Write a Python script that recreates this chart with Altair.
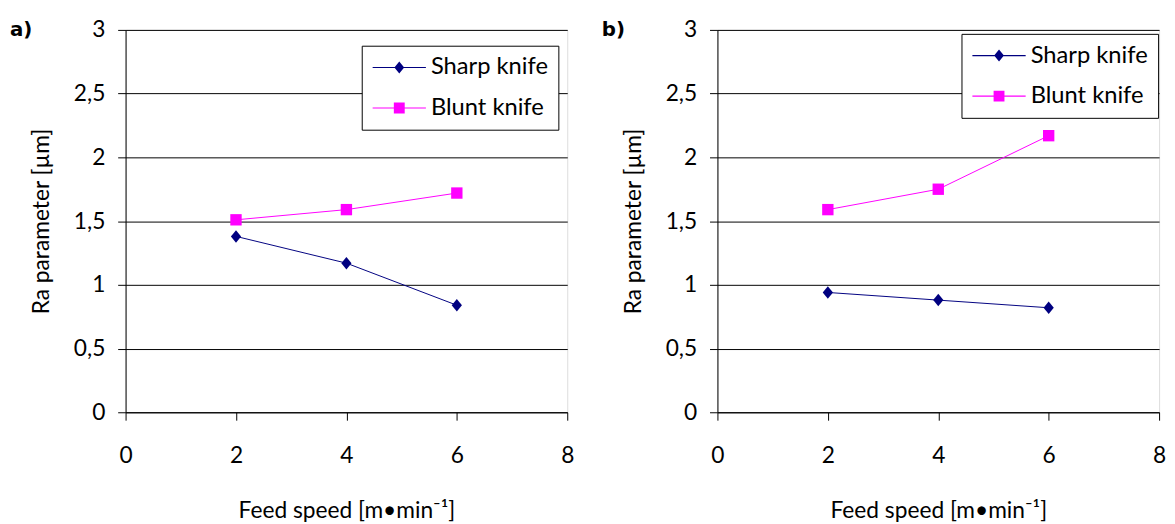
import altair as alt
import pandas as pd

series_names = ["Sharp knife", "Blunt knife"]
series_colors = ["#000080", "#FF00FF"]
feed_speed = [2, 4, 6]
a_sharp = [1.38, 1.17, 0.84]
a_blunt = [1.51, 1.59, 1.72]
b_sharp = [0.94, 0.88, 0.82]
b_blunt = [1.59, 1.75, 2.17]
x_ticks = [0, 2, 4, 6, 8]
y_ticks = [0, 0.5, 1, 1.5, 2, 2.5, 3]
panel_labels = ["a)", "b)"]

FONT = "Lato"
FS = 23

diamond = "M0,-0.55L0.45,0L0,0.55L-0.45,0Z"
square = "M-0.5,-0.5L0.5,-0.5L0.5,0.5L-0.5,0.5Z"
bar = "M-2.45,-0.05L2.45,-0.05L2.45,0.05L-2.45,0.05Z "
legend_shapes = [bar + diamond, bar + square]


def make_df(sharp, blunt):
    rows = []
    for name, vals in zip(series_names, [sharp, blunt]):
        for x, v in zip(feed_speed, vals):
            rows.append({"speed": x, "ra": v, "series": name})
    return pd.DataFrame(rows)


def panel(df, label, lx, ly):
    xenc = alt.X("speed:Q", scale=alt.Scale(domain=[0, 8], nice=False),
                 axis=alt.Axis(values=x_ticks, grid=False, tickSize=8, labelPadding=25,
                               title="Feed speed [m•min⁻¹]", titlePadding=33,
                               domainColor="black", tickColor="black", labelColor="black",
                               titleColor="black", labelFont=FONT, labelFontSize=FS,
                               titleFont=FONT, titleFontSize=FS, titleFontWeight="normal",
                               labelFlush=False))
    yenc = alt.Y("ra:Q", scale=alt.Scale(domain=[0, 3], nice=False),
                 axis=alt.Axis(values=y_ticks, grid=True, gridColor="black", gridOpacity=1,
                               gridWidth=1, tickSize=8, labelPadding=13,
                               labelExpr="replace(toString(datum.value), '.', ',')",
                               title="Ra parameter [µm]", titlePadding=20,
                               domainColor="black", tickColor="black", labelColor="black",
                               titleColor="black", labelFont=FONT, labelFontSize=FS,
                               titleFont=FONT, titleFontSize=FS, titleFontWeight="normal",
                               labelFlush=False))
    cscale = alt.Scale(domain=series_names, range=series_colors)
    base = alt.Chart(df)
    lines = base.mark_line(strokeWidth=1).encode(
        x=xenc, y=yenc,
        color=alt.Color("series:N", scale=cscale, legend=None),
    )
    points = base.mark_point(filled=True, opacity=1, size=529, strokeWidth=0).encode(
        x=xenc, y=yenc,
        color=alt.Color("series:N", scale=cscale, legend=None),
        shape=alt.Shape("series:N", scale=alt.Scale(domain=series_names, range=[diamond, square]),
                        legend=None),
    )
    leg = alt.Legend(orient="none", legendX=lx, legendY=ly, title=None, padding=10,
                     strokeColor="black", fillColor="white", symbolSize=484,
                     symbolStrokeWidth=0, symbolOffset=16, labelOffset=20, rowPadding=17,
                     labelFont=FONT, labelFontSize=24, labelColor="black", cornerRadius=0,
                     symbolOpacity=1)
    legend_layer = base.transform_filter("false").mark_point(
        filled=True, opacity=1, size=484, strokeWidth=0).encode(
        x=xenc, y=yenc,
        color=alt.Color("series:N", scale=cscale, legend=leg),
        shape=alt.Shape("series:N", scale=alt.Scale(domain=series_names, range=legend_shapes),
                        legend=leg),
    )
    return alt.layer(lines, points, legend_layer).resolve_scale(
        color="independent", shape="independent"
    ).properties(
        width=447, height=387,
        title=alt.TitleParams(text=label, anchor="start", frame="group", dx=-117, dy=21,
                              offset=0, font="DejaVu Sans", fontSize=20, fontWeight="bold",
                              color="black"),
    )


pa = panel(make_df(a_sharp, a_blunt), panel_labels[0], 239, 16)
pb = panel(make_df(b_sharp, b_blunt), panel_labels[1], 247, 4)

chart = alt.hconcat(pa, pb, spacing=26).resolve_scale(
    color="independent", shape="independent"
).resolve_legend(color="independent", shape="independent").properties(
    padding={"left": 1, "top": 7, "right": 0, "bottom": 5}
).configure_view(stroke=None).configure(background="white")

chart.save("out.html", embed_options={"renderer": "svg", "actions": False})
